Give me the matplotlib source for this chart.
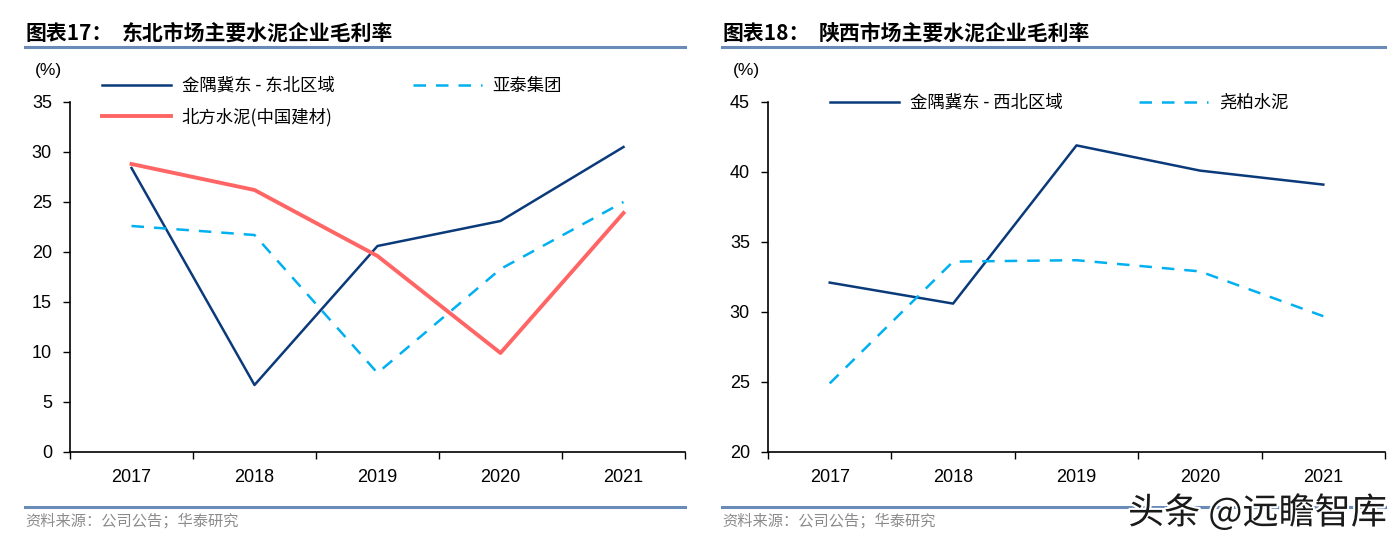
import matplotlib
matplotlib.use("Agg")
import matplotlib.pyplot as plt
import matplotlib.patheffects as pe

plt.rcParams['font.family'] = ['Liberation Sans', 'Noto Sans CJK SC', 'DejaVu Sans']

years = ['2017', '2018', '2019', '2020', '2021']

# 图表17 东北市场
jidong_ne = [28.4, 6.7, 20.6, 23.1, 30.5]
yatai = [22.6, 21.7, 7.9, 18.3, 25.0]
beifang = [28.8, 26.2, 19.6, 9.9, 23.9]

# 图表18 陕西市场
jidong_nw = [32.1, 30.6, 41.9, 40.1, 39.1]
yaobai = [24.9, 33.6, 33.7, 32.9, 29.7]

NAVY = '#0B3A7A'
SKY = '#00B0F0'
RED = '#FF6565'
RULE = '#6A8AB8'
CJK = ['Noto Sans CJK SC', 'DejaVu Sans']

W, H = 1398, 543
fig = plt.figure(figsize=(W / 100, H / 100), dpi=100)


def px(x, y):
    return x / W, 1 - y / H


def setup_axis(ax, ymin, ymax, step):
    x = list(range(len(years)))
    ax.set_xlim(-0.5, len(years) - 0.5)
    ax.set_ylim(ymin, ymax)
    ax.set_xticks([i - 0.5 for i in range(len(years) + 1)])
    ax.set_xticklabels([])
    ax.set_xticks(x, minor=True)
    ax.set_xticklabels(years, minor=True, fontsize=13)
    ax.tick_params(axis='x', which='major', length=5, direction='out', width=1)
    ax.tick_params(axis='x', which='minor', length=0, pad=12)
    ax.set_yticks(range(ymin, ymax + 1, step))
    ax.tick_params(axis='y', length=5, width=1, labelsize=13, pad=8)
    for s in ['top', 'right']:
        ax.spines[s].set_visible(False)
    for s in ['left', 'bottom']:
        ax.spines[s].set_linewidth(1.2)
    return x


def header(x0, x1, code, title):
    fig.text(*px(x0, 33), code, family=CJK, fontsize=15, fontweight='heavy',
             va='center', ha='left')
    fig.text(*px(x0 + 97, 33), title, family=CJK, fontsize=15, fontweight='heavy',
             va='center', ha='left')
    fig.add_artist(plt.Line2D([x0 / W, x1 / W], [1 - 47 / H] * 2, color=RULE, lw=2.2))
    fig.add_artist(plt.Line2D([x0 / W, x1 / W], [1 - 507 / H] * 2, color=RULE, lw=2.2))
    fig.text(*px(x0, 521), '资料来源：公司公告；华泰研究', family=CJK, fontsize=11,
             color='#8C8C8C', va='center', ha='left')


leg_kw = dict(frameon=False, prop={'family': CJK, 'size': 12.5},
              handlelength=4.0, handletextpad=0.6, borderaxespad=0, borderpad=0)

# left panel
ax1 = fig.add_axes([70 / W, 1 - 452 / H, 615 / W, 350 / H])
x = setup_axis(ax1, 0, 35, 5)
l1, = ax1.plot(x, jidong_ne, color=NAVY, lw=1.8)
l2, = ax1.plot(x, yatai, color=SKY, lw=1.8, ls=(0, (5, 4)))
l3, = ax1.plot(x, beifang, color=RED, lw=2.8)
header(25, 685, '图表17：', '东北市场主要水泥企业毛利率')
fig.text(*px(35, 70), '(%)', fontsize=12.5, va='center', ha='left')
ax1.legend([l1, l3, l2], ['金隅冀东 - 东北区域', '北方水泥(中国建材)', '亚泰集团'],
           ncol=2, loc='upper left', bbox_to_anchor=((102 - 70) / 615, (452 - 77) / 350),
           columnspacing=4.5, labelspacing=0.75, **leg_kw)

# right panel
ax2 = fig.add_axes([768 / W, 1 - 452 / H, 617 / W, 350 / H])
x = setup_axis(ax2, 20, 45, 5)
r1, = ax2.plot(x, jidong_nw, color=NAVY, lw=1.8)
r2, = ax2.plot(x, yaobai, color=SKY, lw=1.8, ls=(0, (5, 4)))
header(722, 1385, '图表18：', '陕西市场主要水泥企业毛利率')
fig.text(*px(733, 70), '(%)', fontsize=12.5, va='center', ha='left')
ax2.legend([r1, r2], ['金隅冀东 - 西北区域', '尧柏水泥'],
           ncol=2, loc='upper left', bbox_to_anchor=((830 - 768) / 617, (452 - 94) / 350),
           columnspacing=4.4, **leg_kw)

# watermark
fig.text(*px(1387, 513), '头条 @远瞻智库', family=CJK, fontsize=26, color='#1A1A1A',
         ha='right', va='center',
         path_effects=[pe.withStroke(linewidth=3, foreground='white')])

fig.savefig('out.png', dpi=100)
